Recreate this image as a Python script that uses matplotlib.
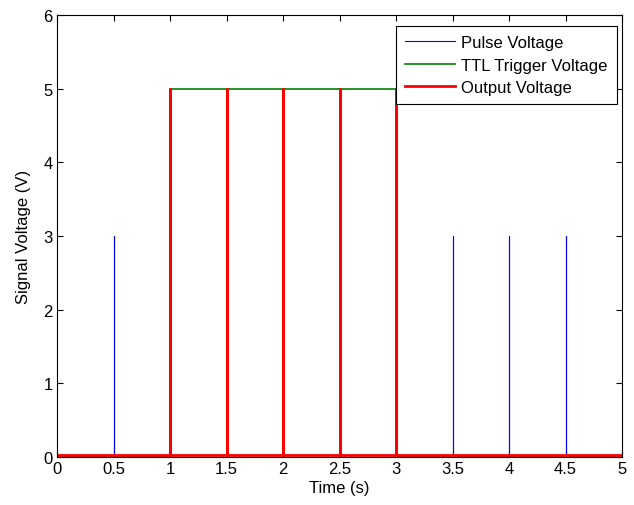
import numpy as np
import matplotlib
matplotlib.use("Agg")
import matplotlib.pyplot as plt

plt.rcParams['font.family'] = ['Liberation Sans', 'DejaVu Sans']

# Data
t_start, t_end = 0.0, 5.0
pulse_times = [0.5, 1.0, 1.5, 2.0, 2.5, 3.0, 3.5, 4.0, 4.5]
pulse_amp = 3.0
ttl_on, ttl_off = 1.0, 3.0
ttl_level = 5.0
output_times = [1.0, 1.5, 2.0, 2.5, 3.0]
output_amp = 5.0
output_base = 0.03
xticks = [0, 0.5, 1, 1.5, 2, 2.5, 3, 3.5, 4, 4.5, 5]
yticks = [0, 1, 2, 3, 4, 5, 6]


def spikes(times, amp, base):
    xs, ys = [t_start], [base]
    for t in times:
        xs += [t, t, t]
        ys += [base, amp, base]
    xs.append(t_end)
    ys.append(base)
    return xs, ys


W, H = 634, 506
fig = plt.figure(figsize=(W / 100, H / 100), dpi=100)
ax = fig.add_axes([57 / W, 1 - 458 / H, (622 - 57) / W, (458 - 16) / H])

px, py = spikes(pulse_times, pulse_amp, 0.0)
ax.plot(px, py, color='#0000ff', lw=0.8, label='Pulse Voltage')

tx = [t_start, ttl_on, ttl_on, ttl_off, ttl_off, t_end]
ty = [0, 0, ttl_level, ttl_level, 0, 0]
ax.plot(tx, ty, color='#008000', lw=1.2, label='TTL Trigger Voltage')

ox, oy = spikes(output_times, output_amp, output_base)
ax.plot(ox, oy, color='#ff0000', lw=2.0, label='Output Voltage')

ax.set_xlim(0, 5)
ax.set_ylim(0, 6)
ax.set_xticks(xticks)
ax.set_xticklabels([f'{v:g}' for v in xticks])
ax.set_yticks(yticks)
ax.tick_params(direction='in', top=True, right=True, labelsize=12, length=4, width=0.8, pad=3)
for s in ax.spines.values():
    s.set_linewidth(0.8)
ax.set_xlabel('Time (s)', fontsize=12, labelpad=3)
ax.set_ylabel('Signal Voltage (V)', fontsize=12, labelpad=9)

leg = ax.legend(loc='upper right', bbox_to_anchor=(617 / W, 1 - 27 / H),
                bbox_transform=fig.transFigure,
                fontsize=12, frameon=True, fancybox=False,
                edgecolor='black', framealpha=1, borderaxespad=0,
                handlelength=3.0, handletextpad=0.4, labelspacing=0.45,
                borderpad=0.55)
leg.get_frame().set_linewidth(0.8)

fig.savefig('out.png', dpi=100)
